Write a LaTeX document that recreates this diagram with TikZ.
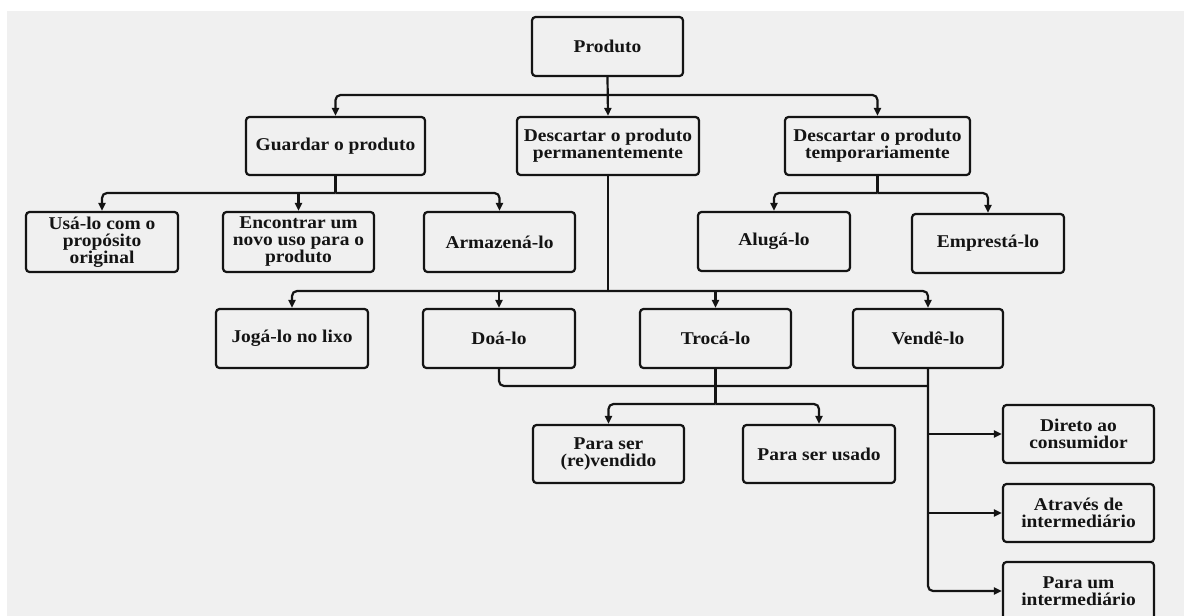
\documentclass[tikz,border=0pt]{standalone}
\usepackage{fontspec}
\setmainfont{Liberation Serif}[FakeStretch=1.08]
\usetikzlibrary{arrows.meta}
\definecolor{bggray}{RGB}{240,240,240}
\definecolor{ink}{RGB}{20,20,20}
\tikzset{
  box/.style={draw=ink, line width=2.2pt, rounded corners=3.5pt, align=center,
    font=\fontsize{18}{17}\selectfont\bfseries, text=ink, inner sep=0pt,
    minimum width=152pt, minimum height=58pt},
  conn/.style={draw=ink, line width=2.2pt, rounded corners=5pt},
  arr/.style={conn, -{Triangle[length=8pt,width=7pt]}}
}
\begin{document}
\begin{tikzpicture}[x=1pt,y=-1pt]
\clip (0,0) rectangle (1184,616);
\fill[white] (0,0) rectangle (1184,616);
\fill[bggray] (7,11) rectangle (1184,616);

% level 0
\node[box, minimum width=151pt, minimum height=59pt] (prod) at (607.5,46.5) {Produto};
% level 1
\node[box, minimum width=179pt] (guard) at (335.5,146) {Guardar o produto};
\node[box, minimum width=182pt] (perm) at (608,146) {Descartar o produto\\permanentemente};
\node[box, minimum width=185pt] (temp) at (877.5,146) {Descartar o produto\\temporariamente};
% level 2
\node[box, minimum height=60pt] (usa) at (102,242) {Usá-lo com o\\propósito\\original};
\node[box, minimum height=60pt, minimum width=151pt] (enc) at (298.5,242) {Encontrar um\\novo uso para o\\produto};
\node[box, minimum height=60pt, minimum width=151pt] (arm) at (499.5,242) {Armazená-lo};
\node[box, minimum height=59pt] (alu) at (774,241.5) {Alugá-lo};
\node[box, minimum height=59pt] (emp) at (988,243.5) {Emprestá-lo};
% level 3
\node[box, minimum height=59pt] (jog) at (292,338.5) {Jogá-lo no lixo};
\node[box, minimum height=59pt] (doa) at (499,338.5) {Doá-lo};
\node[box, minimum height=59pt, minimum width=151pt] (tro) at (715.5,338.5) {Trocá-lo};
\node[box, minimum height=59pt, minimum width=150pt] (ven) at (928,338.5) {Vendê-lo};
% level 4
\node[box, minimum width=151pt] (rev) at (608.5,454) {Para ser\\(re)vendido};
\node[box] (usd) at (819,454) {Para ser usado};
\node[box, minimum width=151pt] (dir) at (1078.5,434) {Direto ao\\consumidor};
\node[box, minimum width=151pt] (atr) at (1078.5,513) {Através de\\intermediário};
\node[box, minimum width=151pt] (pum) at (1078.5,591) {Para um\\intermediário};

% Produto
\draw[arr] (prod.south) -- (perm.north);
\draw[arr] (prod.south |- 0,95) -| (guard.north);
\draw[arr] (prod.south |- 0,95) -| (temp.north);

% Guardar
\draw[conn] (guard.south) -- (guard.south |- 0,193);
\draw[arr] (guard.south |- 0,193) -| (usa.north);
\draw[arr] (guard.south |- 0,193) -| (arm.north);
\draw[arr] (enc.north |- 0,193) -- (enc.north);

% Temporariamente
\draw[conn] (temp.south) -- (temp.south |- 0,193);
\draw[arr] (temp.south |- 0,193) -| (alu.north);
\draw[arr] (temp.south |- 0,193) -| (emp.north);

% Permanentemente
\draw[conn] (perm.south) -- (perm.south |- 0,291);
\draw[arr] (perm.south |- 0,291) -| (jog.north);
\draw[arr] (perm.south |- 0,291) -| (ven.north);
\draw[arr] (doa.north |- 0,291) -- (doa.north);
\draw[arr] (tro.north |- 0,291) -- (tro.north);

% Doa-lo joins Vende-lo line
\draw[conn] (doa.south) |- (ven.south |- 0,386);

% Troca-lo
\draw[conn] (tro.south) -- (tro.south |- 0,404);
\draw[arr] (tro.south |- 0,404) -| (rev.north);
\draw[arr] (tro.south |- 0,404) -| (usd.north);

% Vende-lo
\draw[arr] (ven.south) |- (pum.west);
\draw[arr] (ven.south |- dir.west) -- (dir.west);
\draw[arr] (ven.south |- atr.west) -- (atr.west);
\end{tikzpicture}
\end{document}
